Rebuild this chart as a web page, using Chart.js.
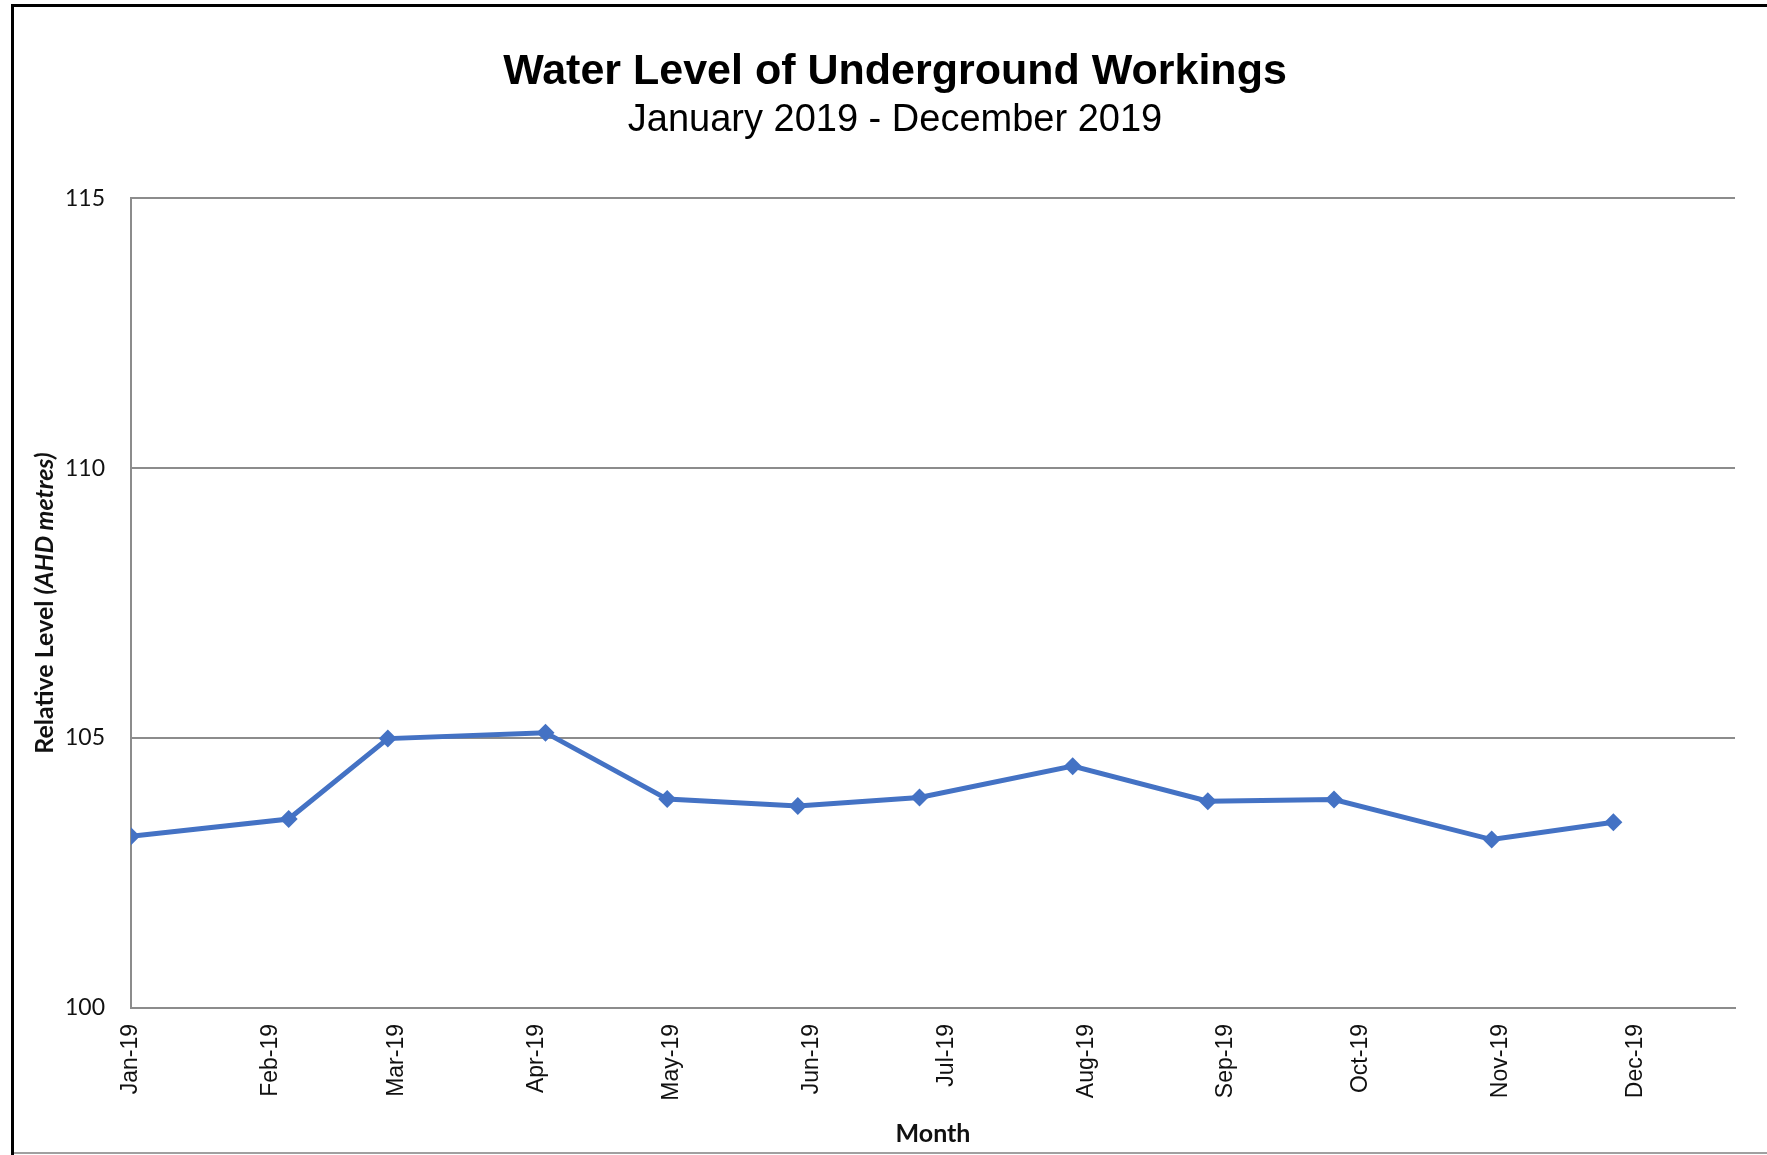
<!DOCTYPE html>
<html>
<head>
<meta charset="utf-8">
<title>Water Level of Underground Workings</title>
<script src="https://cdn.jsdelivr.net/npm/chart.js@4/dist/chart.umd.min.js"></script>
<style>
  html, body { margin: 0; padding: 0; background: #fff; overflow: hidden; }
  canvas { display: block; }
</style>
</head>
<body>
<canvas id="levelChart" width="1767" height="1155"></canvas>
<script>
// survey dates and relative level (AHD metres)
const dates = ['2019-01-01', '2019-02-05', '2019-02-27', '2019-04-03', '2019-04-30', '2019-05-29',
               '2019-06-25', '2019-07-29', '2019-08-28', '2019-09-25', '2019-10-30', '2019-11-26'];
const levels = [103.18, 103.50, 104.99, 105.10, 103.87, 103.74, 103.90, 104.48, 103.83, 103.86, 103.12, 103.44];

// month ticks on the date axis
const tickDates = ['2019-01-01', '2019-02-01', '2019-03-01', '2019-04-01', '2019-05-01', '2019-06-01',
                   '2019-07-01', '2019-08-01', '2019-09-01', '2019-10-01', '2019-11-01', '2019-12-01'];
const tickLabels = ['Jan-19', 'Feb-19', 'Mar-19', 'Apr-19', 'May-19', 'Jun-19',
                    'Jul-19', 'Aug-19', 'Sep-19', 'Oct-19', 'Nov-19', 'Dec-19'];
const axisStart = '2019-01-01';
const axisEnd = '2019-12-23';
const levelTicks = [100, 105, 110, 115];

// days since axis start (no date adapter, so the x axis is linear in days)
function dayOf(s) {
    return (Date.parse(s) - Date.parse(axisStart)) / 86400000;
}

const points = dates.map((d, i) => ({x: dayOf(d), y: levels[i]}));

const frame = {
    id: 'frame',
    beforeDraw: chart => {
        const ctx = chart.ctx;
        ctx.save();
        ctx.fillStyle = '#fff';
        ctx.fillRect(0, 0, chart.width, chart.height);
        ctx.strokeStyle = '#000';
        ctx.lineWidth = 3;
        ctx.beginPath();
        ctx.moveTo(12.5, chart.height);
        ctx.lineTo(12.5, 5.5);
        ctx.lineTo(chart.width, 5.5);
        ctx.stroke();
        ctx.strokeStyle = '#a0a0a0';
        ctx.lineWidth = 2;
        ctx.beginPath();
        ctx.moveTo(14, 1153);
        ctx.lineTo(chart.width, 1153);
        ctx.stroke();
        ctx.restore();
    }
};

// y title has a bold part and a bold italic part, so draw it by hand
const yTitle = {
    id: 'yTitle',
    afterDraw: chart => {
        const ctx = chart.ctx;
        const area = chart.chartArea;
        const part1 = 'Relative Level ';
        const part2 = '(AHD metres)';
        ctx.save();
        ctx.fillStyle = '#111';
        ctx.font = 'bold 25px Lato';
        const w1 = ctx.measureText(part1).width;
        ctx.font = 'italic bold 25px Lato';
        const w2 = ctx.measureText(part2).width;
        ctx.translate(53, (area.top + area.bottom) / 2);
        ctx.rotate(-Math.PI / 2);
        ctx.textBaseline = 'alphabetic';
        ctx.textAlign = 'left';
        const start = -(w1 + w2) / 2;
        ctx.font = 'bold 25px Lato';
        ctx.fillText(part1, start, 0);
        ctx.font = 'italic bold 25px Lato';
        ctx.fillText(part2, start + w1, 0);
        ctx.restore();
    }
};

new Chart(document.getElementById('levelChart'), {
    type: 'line',
    data: {
        datasets: [{
            label: 'Water level',
            data: points,
            borderColor: '#4472C4',
            backgroundColor: '#4472C4',
            borderWidth: 5,
            pointStyle: 'rectRot',
            pointRadius: 9,
            pointBorderWidth: 0,
            tension: 0,
            fill: false
        }]
    },
    options: {
        responsive: false,
        animation: false,
        layout: {
            padding: {left: 55, right: 32, top: 0, bottom: 0}
        },
        scales: {
            x: {
                type: 'linear',
                min: dayOf(axisStart),
                max: dayOf(axisEnd),
                afterBuildTicks: scale => {
                    scale.ticks = tickDates.map(d => ({value: dayOf(d)}));
                },
                afterFit: scale => { scale.height = 147; },
                grid: {display: false, drawTicks: false},
                border: {display: true, color: '#8c8c8c', width: 2},
                ticks: {
                    autoSkip: false,
                    maxRotation: 90,
                    minRotation: 90,
                    padding: 16,
                    color: '#111',
                    font: {family: 'Liberation Sans', size: 23},
                    callback: (value, index) => tickLabels[index]
                },
                title: {
                    display: true,
                    text: 'Month',
                    color: '#111',
                    font: {family: 'Lato', size: 25, weight: 'bold'},
                    padding: {top: 0, bottom: 6}
                }
            },
            y: {
                min: levelTicks[0],
                max: levelTicks[levelTicks.length - 1],
                afterBuildTicks: scale => {
                    scale.ticks = levelTicks.map(v => ({value: v}));
                },
                afterFit: scale => { scale.width = 76; },
                grid: {color: '#8c8c8c', lineWidth: 2, drawTicks: false},
                border: {display: true, color: '#8c8c8c', width: 2},
                ticks: {
                    padding: 26,
                    color: '#111',
                    font: {family: 'Lato', size: 23}
                }
            }
        },
        plugins: {
            legend: {display: false},
            tooltip: {enabled: false},
            title: {
                display: true,
                text: 'Water Level of Underground Workings',
                color: '#000',
                font: {family: 'Liberation Sans', size: 43, weight: 'bold'},
                padding: {top: 46, bottom: 0}
            },
            subtitle: {
                display: true,
                text: 'January 2019 - December 2019',
                color: '#000',
                font: {family: 'Liberation Sans', size: 38},
                padding: {top: 0, bottom: 55}
            }
        }
    },
    plugins: [frame, yTitle]
});
</script>
</body>
</html>
